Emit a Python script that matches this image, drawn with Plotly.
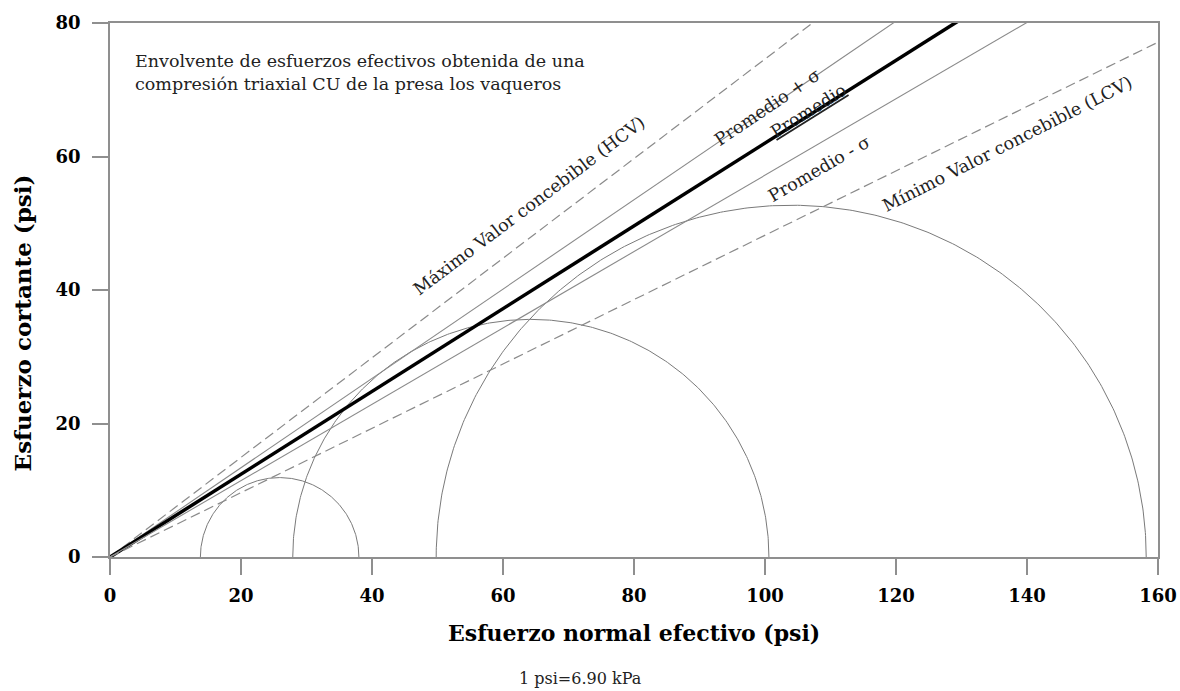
import numpy as np
import plotly.graph_objects as go

# ---- data ----
# Mohr circles (effective stresses, psi)
sigma3 = [13.8, 27.9, 49.8]
sigma1 = [38.0, 100.6, 158.2]
tau_peak = [11.9, 35.6, 52.7]

# Envelope lines through the origin: tan(phi')
env_names = ["HCV", "Promedio + σ", "Promedio", "Promedio - σ", "LCV"]
env_slopes = [0.746, 0.669, 0.620, 0.572, 0.482]

# label texts on the envelopes and their positions (x, y) and angles
label_texts = ["Máximo Valor concebible (HCV)", "Promedio + σ",
               "<span style='text-decoration:underline'>Promedio</span>",
               "Promedio - σ", "Mínimo Valor concebible (LCV)"]
label_x = [63.9, 100.4, 106.6, 108.2, 137.0]
label_y = [52.6, 67.4, 66.8, 58.2, 61.8]
label_angle = [-37, -34, -32, -30, -27]

x_ticks = [0, 20, 40, 60, 80, 100, 120, 140, 160]
y_ticks = [0, 20, 40, 60, 80]

x_title = "Esfuerzo normal efectivo (psi)"
y_title = "Esfuerzo cortante (psi)"
unit_note = "1 psi=6.90 kPa"
note_lines = ["Envolvente de esfuerzos efectivos obtenida de una",
              "compresión triaxial CU de la presa los vaqueros"]

FONT = "DejaVu Serif"
AX_COLOR = "#8f8f8f"

fig = go.Figure()

# circles
theta = np.linspace(0, np.pi, 361)
for s3, s1, tp in zip(sigma3, sigma1, tau_peak):
    c = (s1 + s3) / 2.0
    r = (s1 - s3) / 2.0
    fig.add_trace(go.Scatter(
        x=c + r * np.cos(theta), y=tp * np.sin(theta),
        mode="lines", line=dict(color="#7a7a7a", width=1),
        hoverinfo="skip", showlegend=False))

# envelope lines
styles = {
    "HCV": dict(color="#8a8a8a", width=1.2, dash="10px,5px"),
    "Promedio + σ": dict(color="#8a8a8a", width=1.1),
    "Promedio": dict(color="black", width=3.5),
    "Promedio - σ": dict(color="#8a8a8a", width=1.1),
    "LCV": dict(color="#8a8a8a", width=1.2, dash="10px,5px"),
}
x_end = x_ticks[-1]
for name, m in zip(env_names, env_slopes):
    fig.add_trace(go.Scatter(
        x=[0, x_end], y=[0, m * x_end], mode="lines",
        line=styles[name], name=name, hoverinfo="skip", showlegend=False))

annotations = []
for t, xx, yy, a in zip(label_texts, label_x, label_y, label_angle):
    annotations.append(dict(
        x=xx, y=yy, xref="x", yref="y", text=t, textangle=a,
        showarrow=False, xanchor="center", yanchor="middle",
        font=dict(family=FONT, size=17.5, color="#222")))

# note in the upper left
for txt, yy in zip(note_lines, [74.35, 70.9]):
    annotations.append(dict(
        x=3.5, y=yy, xref="x", yref="y", xanchor="left", yanchor="middle",
        text=txt, showarrow=False,
        font=dict(family=FONT, size=17.5, color="#222")))

# axis titles
annotations.append(dict(
    x=0.5, y=0, xref="paper", yref="paper", xanchor="center", yanchor="middle",
    yshift=-75.5, text=x_title, showarrow=False,
    font=dict(family=FONT, size=22, weight="bold", color="black")))
annotations.append(dict(
    x=0, y=35.0, xref="paper", yref="y", xanchor="center", yanchor="middle",
    xshift=-88, textangle=-90, text=y_title, showarrow=False,
    font=dict(family=FONT, size=23, weight="bold", color="black")))

# unit note below the x-axis title
annotations.append(dict(
    x=71.9, y=0, xref="x", yref="paper", xanchor="center", yanchor="middle",
    yshift=-121, text=unit_note, showarrow=False,
    font=dict(family=FONT, size=16, color="#222")))

fig.update_layout(
    width=1180, height=691,
    margin=dict(l=110, r=22, t=23, b=134, autoexpand=False),
    paper_bgcolor="white", plot_bgcolor="white",
    annotations=annotations,
    xaxis=dict(
        range=[0, 160], tickvals=x_ticks, ticktext=[str(v) for v in x_ticks],
        showgrid=False, zeroline=False, showline=True, linecolor=AX_COLOR,
        linewidth=1.5, mirror=True, ticks="outside", ticklen=16,
        tickcolor=AX_COLOR, tickwidth=1.5, ticklabelstandoff=6,
        automargin=False, ticklabeloverflow="allow",
        tickfont=dict(family=FONT, size=18, weight="bold", color="black"),
    ),
    yaxis=dict(
        range=[0, 80], tickvals=y_ticks, ticktext=[str(v) for v in y_ticks],
        showgrid=False, zeroline=False, showline=True, linecolor=AX_COLOR,
        linewidth=1.5, mirror=True, ticks="outside", ticklen=16,
        tickcolor=AX_COLOR, tickwidth=1.5, ticklabelstandoff=8,
        automargin=False,
        tickfont=dict(family=FONT, size=18, weight="bold", color="black"),
    ),
)

fig.write_html("out.html")
